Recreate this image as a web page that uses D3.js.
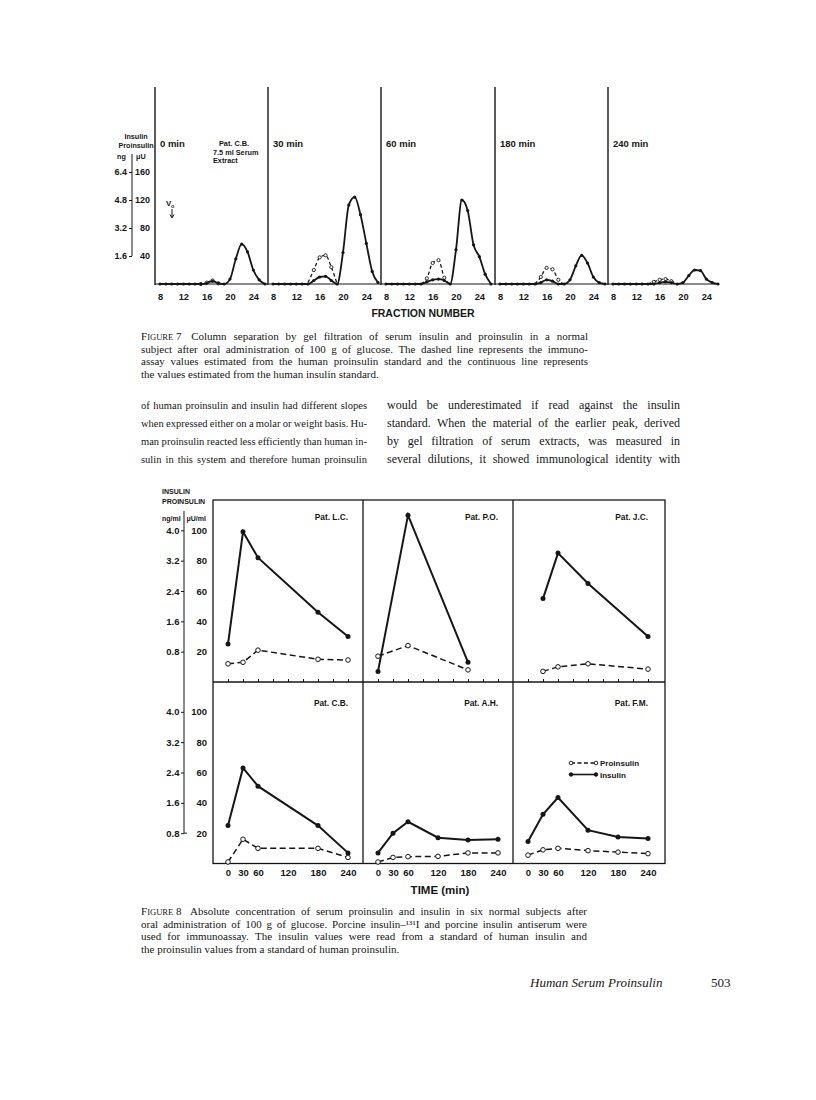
<!DOCTYPE html>
<html><head><meta charset="utf-8">
<script src="https://cdn.jsdelivr.net/npm/d3@7"></script>
<style>body{margin:0;background:#fff}</style>
</head><body>
<svg id="page" width="816" height="1100" xmlns="http://www.w3.org/2000/svg"></svg>
<script>
// ================= DATA =================
// Figure 7 – gel filtration profiles (µU), fraction numbers 8..26
const fig7Panels = ["0 min", "30 min", "60 min", "180 min", "240 min"];
const fig7Fractions = [8,9,10,11,12,13,14,15,16,17,18,19,20,21,22,23,24,25,26];
const fig7Insulin0   = [0,0,0,0,0,0,0,0,1,4,1,0,7,36,57,46,20,6,0];
const fig7Insulin30  = [0,0,0,0,0,0,0,5,10,11,5,0,45,113,124,99,58,18,2];
const fig7Insulin60  = [0,0,0,0,0,0,0,3,6,7,5,0,49,120,105,56,39,14,0];
const fig7Insulin180 = [0,0,0,0,0,0,0,2,6,4,0,0,6,26,41,30,10,2,0];
const fig7Insulin240 = [0,0,0,0,0,0,0,0,2,3,2,0,2,12,20,19,7,2,0];
const fig7ProFractions = [14,15,16,17,18,19];
const fig7Pro0   = [0,0,2,5,1,0];
const fig7Pro30  = [2,20,38,41,24,0];
const fig7Pro60  = [0,8,30,34,9,0];
const fig7Pro180 = [0,10,23,21,6,0];
const fig7Pro240 = [0,3,6,7,4,0];
const fig7XTicks = [8,12,16,20,24];
const fig7UTicks = [40,80,120,160];
const fig7NgLabels = ["1.6","3.2","4.8","6.4"];

// Figure 8 – serum insulin / proinsulin (µU/ml) vs time (min)
const fig8Patients = ["Pat. L.C.","Pat. P.O.","Pat. J.C.","Pat. C.B.","Pat. A.H.","Pat. F.M."];
const timesLC = [0,30,60,180,240];      const insLC = [25,99,82,46,30];          const proLC = [12,13,21,15,14.5];
const timesPO = [0,60,180];             const insPO = [7,110,13];                const proPO = [17,24,8];
const timesJC = [30,60,120,240];        const insJC = [55,85,65,30];             const proJC = [7,10,12,8.5];
const timesCB = [0,30,60,180,240];      const insCB = [25,63,51,25,7];           const proCB = [1,16,10,10,4];
const timesAH = [0,30,60,120,180,240];  const insAH = [7,20,27.5,17,15.5,16];    const proAH = [1,4,4.5,4.7,7,7];
const timesFM = [0,30,60,120,180,240];  const insFM = [14.5,32.5,43.5,22,17.5,16.5]; const proFM = [5.5,9,10,8.5,7.5,6.5];
const fig8TimeTicks = [0,30,60,120,180,240];
const fig8MinorTicks = [0,30,60,90,120,150,180,210,240];
const fig8UTicks = [20,40,60,80,100];
const fig8NgLabels = ["0.8","1.6","2.4","3.2","4.0"];

// Text
const fig7Caption = [
  "Column separation by gel filtration of serum insulin and proinsulin in a normal",
  "subject after oral administration of 100 g of glucose. The dashed line represents the immuno-",
  "assay values estimated from the human proinsulin standard and the continuous line represents",
  "the values estimated from the human insulin standard."
];
const bodyLeft = [
  "of human proinsulin and insulin had different slopes",
  "when expressed either on a molar or weight basis. Hu-",
  "man proinsulin reacted less efficiently than human in-",
  "sulin in this system and therefore human proinsulin"
];
const bodyRight = [
  "would be underestimated if read against the insulin",
  "standard. When the material of the earlier peak, derived",
  "by gel filtration of serum extracts, was measured in",
  "several dilutions, it showed immunological identity with"
];
const fig8Caption = [
  "Absolute concentration of serum proinsulin and insulin in six normal subjects after",
  "oral administration of 100 g of glucose. Porcine insulin\u2013\u00B9\u00B3\u00B9I and porcine insulin antiserum were",
  "used for immunoassay. The insulin values were read from a standard of human insulin and",
  "the proinsulin values from a standard of human proinsulin."
];

// ================= DRAWING =================
const INK = "#161616";
const SANS = "'Liberation Sans', Arial, sans-serif";
const SERIF = "'Liberation Serif', 'Times New Roman', serif";
const svg = d3.select("#page");
svg.append("rect").attr("width", 816).attr("height", 1100).attr("fill", "#fff");

function sText(g, x, y, s, size, anchor) {
  return g.append("text").attr("x", x).attr("y", y).text(s).attr("text-anchor", anchor || "start")
    .attr("font-family", SANS).attr("font-weight", "bold").attr("font-size", size).attr("fill", INK);
}

// ---------- Figure 7 ----------
const f7 = svg.append("g");
const f7PanelX = [155, 268, 381, 495, 608];
const f7Base = 284, f7Top = 87;
const y7 = d3.scaleLinear().domain([0, 160]).range([f7Base, 172]);
const f7Ins = [fig7Insulin0, fig7Insulin30, fig7Insulin60, fig7Insulin180, fig7Insulin240];
const f7Pro = [fig7Pro0, fig7Pro30, fig7Pro60, fig7Pro180, fig7Pro240];

f7.append("line").attr("x1", 155).attr("x2", 719).attr("y1", f7Base).attr("y2", f7Base)
  .attr("stroke", INK).attr("stroke-width", 1);

fig7Panels.forEach((lab, i) => {
  const px = f7PanelX[i];
  const x = d3.scaleLinear().domain([8, 26]).range([px + 5, px + 110]);
  f7.append("line").attr("x1", px).attr("x2", px).attr("y1", f7Top).attr("y2", f7Base + 1)
    .attr("stroke", INK).attr("stroke-width", 1.4);
  sText(f7, px + 5, 147, lab, 9.5);

  const ax = f7.append("g").attr("transform", `translate(0,${f7Base})`)
    .call(d3.axisBottom(x).tickValues(fig7XTicks).tickSize(0).tickPadding(9));
  ax.select(".domain").remove();
  ax.selectAll("text").attr("font-family", SANS).attr("font-weight", "bold").attr("font-size", 9.3).attr("fill", INK);

  const line = d3.line().x(d => x(d[0])).y(d => y7(d[1])).curve(d3.curveMonotoneX);
  const ins = fig7Fractions.map((f, k) => [f, f7Ins[i][k]]);
  const pro = fig7ProFractions.map((f, k) => [f, f7Pro[i][k]]);
  f7.append("path").attr("d", line(pro)).attr("fill", "none").attr("stroke", INK)
    .attr("stroke-width", 1.3).attr("stroke-dasharray", "3.5,2.5");
  f7.append("path").attr("d", line(ins)).attr("fill", "none").attr("stroke", INK).attr("stroke-width", 1.8);
  f7.selectAll(null).data(pro.slice(1, -1)).enter().append("circle")
    .attr("cx", d => x(d[0])).attr("cy", d => y7(d[1])).attr("r", 1.6)
    .attr("fill", "#fff").attr("stroke", INK).attr("stroke-width", 0.9);
  f7.selectAll(null).data(ins).enter().append("circle")
    .attr("cx", d => x(d[0])).attr("cy", d => y7(d[1])).attr("r", 1.6).attr("fill", INK);
});

// Fig 7 left axes
const f7u = f7.append("g").attr("transform", "translate(152,0)")
  .call(d3.axisLeft(y7).tickValues(fig7UTicks).tickSize(0).tickPadding(2));
f7u.select(".domain").remove();
f7u.selectAll("text").attr("font-family", SANS).attr("font-weight", "bold").attr("font-size", 9).attr("fill", INK);
const f7n = f7.append("g").attr("transform", "translate(132,0)")
  .call(d3.axisLeft(y7).tickValues(fig7UTicks).tickSize(3).tickPadding(2)
    .tickFormat((d, k) => fig7NgLabels[k]));
f7n.select(".domain").remove();
f7n.selectAll("line").attr("stroke", INK);
f7n.selectAll("text").attr("font-family", SANS).attr("font-weight", "bold").attr("font-size", 9).attr("fill", INK);
f7.append("line").attr("x1", 132).attr("x2", 132).attr("y1", 154).attr("y2", y7(40))
  .attr("stroke", INK).attr("stroke-width", 1);
sText(f7, 136, 139, "Insulin", 7.2, "middle");
sText(f7, 136, 148, "Proinsulin", 7.2, "middle");
sText(f7, 117, 159, "ng", 7.2);
sText(f7, 136, 159, "\u03BCU", 7.2);

sText(f7, 219, 146, "Pat. C.B.", 7.3);
sText(f7, 213, 154.5, "7.5 ml Serum", 7.3);
sText(f7, 213, 163, "Extract", 7.3);
sText(f7, 166, 206, "V", 8);
sText(f7, 171, 208, "o", 5.5);
f7.append("line").attr("x1", 172).attr("x2", 172).attr("y1", 209).attr("y2", 217).attr("stroke", INK).attr("stroke-width", 1);
f7.append("path").attr("d", "M170,214.5 L172,218 L174,214.5").attr("fill", "none").attr("stroke", INK).attr("stroke-width", 1);

sText(f7, 423, 317, "FRACTION NUMBER", 10.5, "middle");

// ---------- Figure 8 ----------
const f8 = svg.append("g");
const colX = [213, 363, 513];
const rowY = [[500, 682], [681.5, 863.5]];
const pData = [
  [timesLC, insLC, proLC], [timesPO, insPO, proPO], [timesJC, insJC, proJC],
  [timesCB, insCB, proCB], [timesAH, insAH, proAH], [timesFM, insFM, proFM]
];
const yRows = rowY.map(r => d3.scaleLinear().domain([0, 120]).range([r[1], r[0]]));

f8.append("rect").attr("x", 213).attr("y", 500).attr("width", 452).attr("height", 363.5)
  .attr("fill", "none").attr("stroke", INK).attr("stroke-width", 1.3);
f8.append("line").attr("x1", 213).attr("x2", 665).attr("y1", 682).attr("y2", 682).attr("stroke", INK).attr("stroke-width", 1.3);
[363, 513].forEach(v => f8.append("line").attr("x1", v).attr("x2", v).attr("y1", 500).attr("y2", 863.5)
  .attr("stroke", INK).attr("stroke-width", 1.3));

fig8Patients.forEach((name, i) => {
  const row = Math.floor(i / 3), col = i % 3;
  const px = colX[col];
  const x = d3.scaleLinear().domain([-30, 270]).range([px, px + 150]);
  const y = yRows[row];
  const g = f8.append("g");
  sText(g, px + 135, row === 0 ? 520 : 706, name, 8.3, "end");
  if (row === 0) {
    const ax = g.append("g").attr("transform", `translate(0,${rowY[0][1]})`)
      .call(d3.axisTop(x).tickValues(fig8MinorTicks).tickSize(3).tickFormat(""));
    ax.select(".domain").remove();
    ax.selectAll("line").attr("stroke", INK);
  } else {
    const ax = g.append("g").attr("transform", `translate(0,${rowY[1][1]})`)
      .call(d3.axisBottom(x).tickValues(fig8TimeTicks).tickSize(0).tickPadding(5.5));
    ax.select(".domain").remove();
    ax.selectAll("text").attr("font-family", SANS).attr("font-weight", "bold").attr("font-size", 9.5).attr("fill", INK);
  }
  const [t, ins, pro] = pData[i];
  const line = d3.line().x(d => x(d[0])).y(d => y(d[1]));
  const insP = t.map((v, k) => [v, ins[k]]), proP = t.map((v, k) => [v, pro[k]]);
  g.append("path").attr("d", line(proP)).attr("fill", "none").attr("stroke", INK)
    .attr("stroke-width", 1.5).attr("stroke-dasharray", "6,3.5");
  g.append("path").attr("d", line(insP)).attr("fill", "none").attr("stroke", INK).attr("stroke-width", 2);
  g.selectAll(null).data(insP).enter().append("circle").attr("cx", d => x(d[0])).attr("cy", d => y(d[1]))
    .attr("r", 2.5).attr("fill", INK);
  g.selectAll(null).data(proP).enter().append("circle").attr("cx", d => x(d[0])).attr("cy", d => y(d[1]))
    .attr("r", 2.3).attr("fill", "#fff").attr("stroke", INK).attr("stroke-width", 1);
});

yRows.forEach(y => {
  const au = f8.append("g").attr("transform", "translate(209,0)")
    .call(d3.axisLeft(y).tickValues(fig8UTicks).tickSize(0).tickPadding(2));
  au.select(".domain").remove();
  au.selectAll("text").attr("font-family", SANS).attr("font-weight", "bold").attr("font-size", 9.5).attr("fill", INK);
  const an = f8.append("g").attr("transform", "translate(184,0)")
    .call(d3.axisLeft(y).tickValues(fig8UTicks).tickSize(3).tickPadding(1.5).tickFormat((d, k) => fig8NgLabels[k]));
  an.select(".domain").remove();
  an.selectAll("line").attr("stroke", INK);
  an.selectAll("text").attr("font-family", SANS).attr("font-weight", "bold").attr("font-size", 9.5).attr("fill", INK);
});
f8.append("line").attr("x1", 184).attr("x2", 184).attr("y1", 511).attr("y2", yRows[1](20))
  .attr("stroke", INK).attr("stroke-width", 1);
f8.append("line").attr("x1", 184).attr("x2", 187).attr("y1", yRows[1](20)).attr("y2", yRows[1](20))
  .attr("stroke", INK).attr("stroke-width", 1);
sText(f8, 162, 494, "INSULIN", 7);
sText(f8, 162, 504, "PROINSULIN", 7);
sText(f8, 162, 521, "ng/ml", 7);
sText(f8, 186.5, 521, "\u03BCU/ml", 7);

const lg = f8.append("g");
const legItems = [["Proinsulin", true, 763], ["Insulin", false, 774.5]];
legItems.forEach(([lab, dashed, ly]) => {
  lg.append("line").attr("x1", 571).attr("x2", 596).attr("y1", ly).attr("y2", ly).attr("stroke", INK)
    .attr("stroke-width", dashed ? 1.3 : 1.6).attr("stroke-dasharray", dashed ? "4,2.5" : null);
  [571, 596].forEach(cx => lg.append("circle").attr("cx", cx).attr("cy", ly).attr("r", 1.8)
    .attr("fill", dashed ? "#fff" : INK).attr("stroke", INK).attr("stroke-width", 0.9));
  sText(lg, 600, ly + 3, lab, 8);
});
sText(f8, 440, 894, "TIME (min)", 11.5, "middle");

// ---------- Text blocks ----------
function measure(segs, size) {
  const t = svg.append("text").attr("font-family", SERIF).attr("font-size", size).attr("visibility", "hidden");
  segs.forEach(s => t.append("tspan").attr("font-size", size * (s.k || 1)).text(s.t));
  const w = t.node().getComputedTextLength();
  t.remove();
  return w;
}
function drawWord(segs, x, y, size) {
  const t = svg.append("text").attr("x", x).attr("y", y).attr("font-family", SERIF)
    .attr("font-size", size).attr("fill", INK);
  segs.forEach(s => t.append("tspan").attr("font-size", size * (s.k || 1)).text(s.t));
  return t;
}
function naturalWidth(words, size) {
  const sp = measure([{t: "\u00A0"}], size);
  return d3.sum(words, w => measure(w, size)) + sp * 0.85 * (words.length - 1);
}
function textLine(words, x, y, width, size, justify) {
  const widths = words.map(w => measure(w, size));
  const total = d3.sum(widths);
  const sp = measure([{t: "\u00A0"}], size);
  let gap = justify && words.length > 1 ? (width - total) / (words.length - 1) : sp;
  let cx = x;
  words.forEach((w, k) => { drawWord(w, cx, y, size); cx += widths[k] + gap; });
}
function plainWords(s) { return s.split(" ").map(w => [{t: w}]); }
function fitSize(lines, width, base) {
  const maxW = d3.max(lines, l => naturalWidth(plainWords(l), base));
  return Math.min(base, base * width / maxW);
}

function caption(figNo, lines, x, y0, width, lh, size) {
  lines.forEach((ln, k) => {
    let words = plainWords(ln);
    if (k === 0) words = [[{t: "F"}, {t: "IGURE", k: 0.78}, {t: "\u00A0" + figNo + "\u00A0"}]].concat(words);
    textLine(words, x, y0 + k * lh, width, size, k < lines.length - 1);
  });
}
caption(7, fig7Caption, 141, 340, 447, 12.5, 11);
caption(8, fig8Caption, 141, 915, 446, 12.5, 11);

const leftSize = fitSize(bodyLeft, 226, 12);
const rightSize = fitSize(bodyRight, 293, 12);
bodyLeft.forEach((ln, k) => textLine(plainWords(ln), 141, 409 + k * 18, 226, leftSize, true));
bodyRight.forEach((ln, k) => textLine(plainWords(ln), 387, 409 + k * 18, 293, rightSize, true));

svg.append("text").attr("x", 530).attr("y", 987).text("Human Serum Proinsulin")
  .attr("font-family", SERIF).attr("font-style", "italic").attr("font-size", 13).attr("fill", INK);
svg.append("text").attr("x", 711).attr("y", 987).text("503")
  .attr("font-family", SERIF).attr("font-size", 13).attr("fill", INK);
</script>
</body></html>
